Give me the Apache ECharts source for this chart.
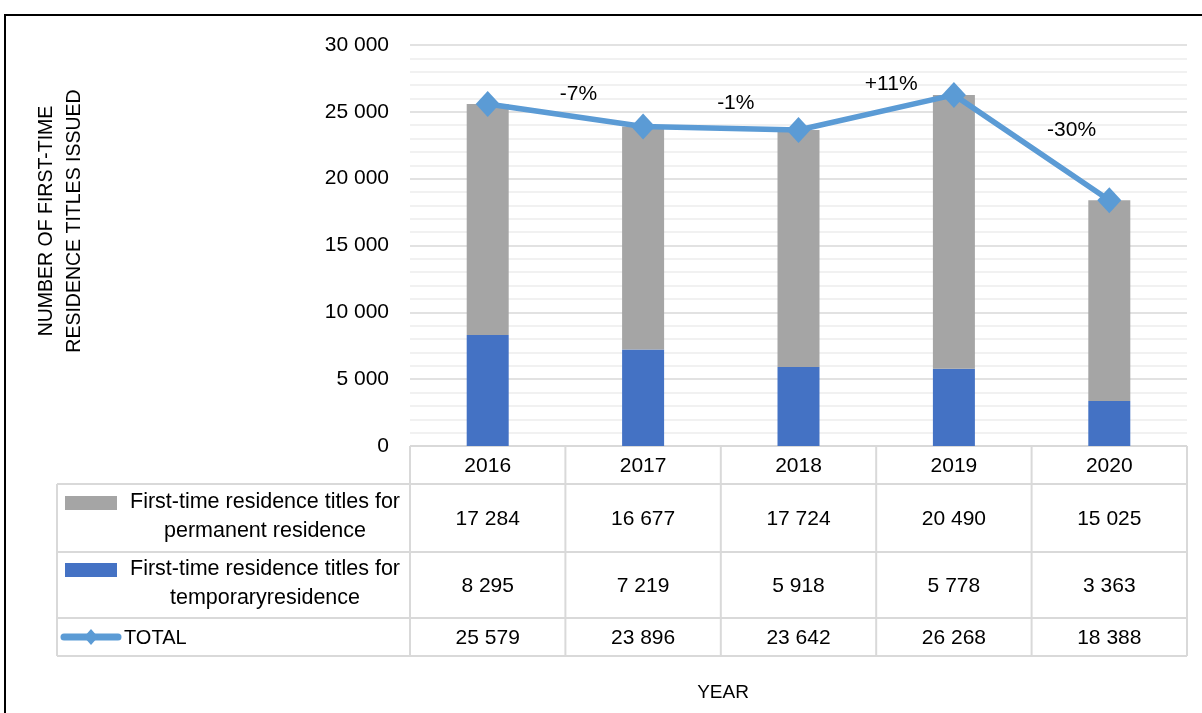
<!DOCTYPE html>
<html>
<head>
<meta charset="utf-8">
<script src="https://cdn.jsdelivr.net/npm/echarts@6/dist/echarts.min.js"></script>
<style>
  html, body { margin: 0; padding: 0; background: #fff; }
  #chart { width: 1202px; height: 713px; }
</style>
</head>
<body>
<div id="chart"></div>
<script>
// Years on the category axis
const years = ['2016', '2017', '2018', '2019', '2020'];
// First-time residence titles for permanent residence
const permanent = [17284, 16677, 17724, 20490, 15025];
// First-time residence titles for temporary residence
const temporary = [8295, 7219, 5918, 5778, 3363];
// Total titles issued
const total = [25579, 23896, 23642, 26268, 18388];
// Year-on-year change shown between the total points
const changes = ['-7%', '-1%', '+11%', '-30%'];

const seriesNames = [
  'First-time residence titles for\npermanent residence',
  'First-time residence titles for\ntemporaryresidence',
  'TOTAL'
];

const FONT = '"Liberation Sans", Arial, sans-serif';
const GRAY = '#A5A5A5', BLUE = '#4472C4', LINE = '#5B9BD5', CELL = '#D9D9D9';

const fmt = v => String(v).replace(/\B(?=(\d{3})+(?!\d))/g, ' ');

const chart = echarts.init(document.getElementById('chart'));

chart.setOption({
  animation: false,
  grid: { left: 410, right: 15, top: 45, bottom: 267, containLabel: false },
  xAxis: {
    type: 'category',
    data: years,
    axisLine: { show: false },
    axisTick: { show: false },
    axisLabel: { show: false }
  },
  yAxis: {
    type: 'value',
    min: 0, max: 30000, interval: 5000,
    axisLine: { show: false },
    axisTick: { show: false },
    axisLabel: { formatter: fmt, fontFamily: FONT, fontSize: 21, color: '#000', margin: 21 },
    splitLine: { lineStyle: { color: '#D9D9D9', width: 1.5 } },
    minorTick: { show: false, splitNumber: 5 },
    minorSplitLine: { show: true, lineStyle: { color: '#EDEDED', width: 1.5 } }
  },
  series: [
    {
      name: 'temporary', type: 'bar', stack: 'titles', data: temporary,
      barWidth: 42, itemStyle: { color: BLUE }
    },
    {
      name: 'permanent', type: 'bar', stack: 'titles', data: permanent,
      barWidth: 42, itemStyle: { color: GRAY }
    },
    {
      name: 'TOTAL', type: 'line', data: total, z: 5,
      symbol: 'diamond', symbolSize: [24, 26],
      lineStyle: { color: LINE, width: 5.5 },
      itemStyle: { color: LINE }
    }
  ]
});

// Data table, axis titles, change labels and frame placed from the chart's own scales
function px(cat, val) { return chart.convertToPixel({ gridIndex: 0 }, [cat, val]); }

const g = [];
const catW = px(1, 0)[0] - px(0, 0)[0];
const x0 = px(0, 0)[0] - catW / 2;   // left edge of plot area
const xEnd = x0 + catW * years.length;
const yBase = px(0, 0)[1];
const rows = [yBase, yBase + 38, yBase + 106, yBase + 172, yBase + 210];
const legendLeft = 57;

// Frame around the whole figure
g.push({ type: 'rect', shape: { x: 5, y: 15, width: 1240, height: 760 },
  style: { fill: null, stroke: '#000', lineWidth: 2 }, silent: true });

// Horizontal cell borders
g.push({ type: 'line', shape: { x1: x0, y1: rows[0], x2: xEnd, y2: rows[0] }, style: { stroke: CELL, lineWidth: 2 } });
for (let r = 1; r < rows.length; r++) {
  g.push({ type: 'line', shape: { x1: legendLeft, y1: rows[r], x2: xEnd, y2: rows[r] }, style: { stroke: CELL, lineWidth: 2 } });
}
// Vertical cell borders
for (let c = 0; c <= years.length; c++) {
  const x = x0 + catW * c;
  g.push({ type: 'line', shape: { x1: x, y1: rows[0], x2: x, y2: rows[4] }, style: { stroke: CELL, lineWidth: 2 } });
}
g.push({ type: 'line', shape: { x1: legendLeft, y1: rows[1], x2: legendLeft, y2: rows[4] }, style: { stroke: CELL, lineWidth: 2 } });

const cellText = (x, y, text) => ({
  type: 'text', x, y,
  style: { text, fontFamily: FONT, fontSize: 21, fill: '#000', align: 'center', verticalAlign: 'middle' }
});

// Header row and values
const rowData = [permanent, temporary, total];
years.forEach((yr, i) => {
  const cx = px(i, 0)[0];
  g.push(cellText(cx, (rows[0] + rows[1]) / 2 + 1, yr));
  rowData.forEach((arr, r) => {
    g.push(cellText(cx, (rows[r + 1] + rows[r + 2]) / 2 + 1, fmt(arr[i])));
  });
});

// Legend keys in the first column
const keyCx = 91;
[GRAY, BLUE].forEach((col, r) => {
  const cy = (rows[r + 1] + rows[r + 2]) / 2;
  g.push({ type: 'rect', shape: { x: keyCx - 26, y: cy - 22, width: 52, height: 14 }, style: { fill: col } });
  g.push({
    type: 'text', x: 265, y: cy - 1,
    style: { text: seriesNames[r], fontFamily: FONT, fontSize: 21.5, lineHeight: 29, fill: '#000', align: 'center', verticalAlign: 'middle' }
  });
});
{
  const cy = (rows[3] + rows[4]) / 2;
  g.push({ type: 'line', shape: { x1: keyCx - 27, y1: cy, x2: keyCx + 27, y2: cy }, style: { stroke: LINE, lineWidth: 7, lineCap: 'round' } });
  g.push({ type: 'polygon', shape: { points: [[keyCx, cy - 8], [keyCx + 7, cy], [keyCx, cy + 8], [keyCx - 7, cy]] }, style: { fill: LINE } });
  g.push({ type: 'text', x: 124, y: cy + 1, style: { text: seriesNames[2], fontFamily: FONT, fontSize: 20, fill: '#000', align: 'left', verticalAlign: 'middle' } });
}

// Change labels between consecutive totals
const lift = [21, 25, 28, 17];
const shift = [13, 15, 15, 40];
changes.forEach((t, i) => {
  const a = px(i, total[i]), b = px(i + 1, total[i + 1]);
  g.push({
    type: 'text', x: (a[0] + b[0]) / 2 + shift[i], y: (a[1] + b[1]) / 2 - lift[i],
    style: { text: t, fontFamily: FONT, fontSize: 21, fill: '#000', align: 'center', verticalAlign: 'middle' }
  });
});

// Axis titles
g.push({
  type: 'text', x: 61, y: 221, rotation: Math.PI / 2,
  style: { text: 'NUMBER OF FIRST-TIME\nRESIDENCE TITLES ISSUED', fontFamily: FONT, fontSize: 19.5, lineHeight: 28, fill: '#000', align: 'center', verticalAlign: 'middle' }
});
g.push({
  type: 'text', x: 723, y: 693,
  style: { text: 'YEAR', fontFamily: FONT, fontSize: 19, fill: '#000', align: 'center', verticalAlign: 'middle' }
});

chart.setOption({ graphic: g });
</script>
</body>
</html>
